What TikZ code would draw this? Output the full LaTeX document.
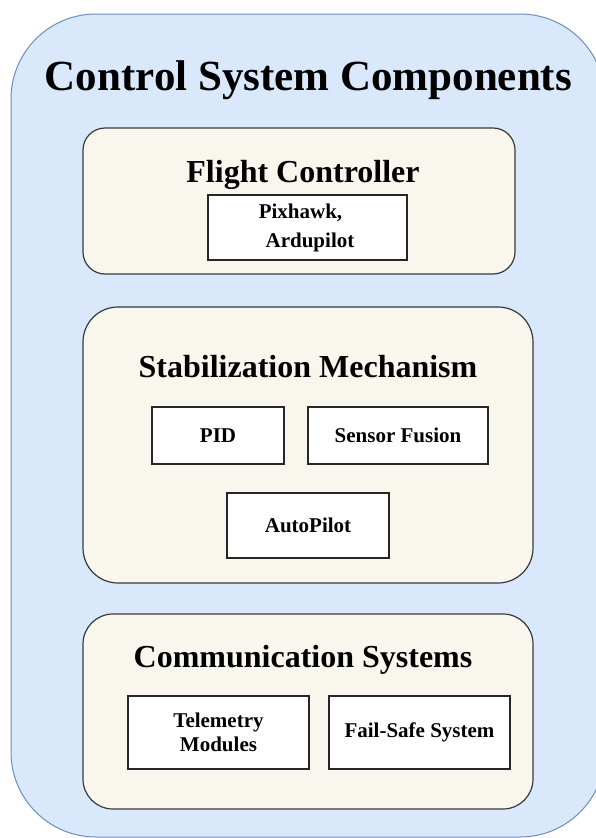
\documentclass[tikz,border=0pt]{standalone}
\usepackage{fontspec}
\setmainfont{Liberation Serif}
\definecolor{outerfill}{HTML}{DAE8FC}
\definecolor{outerdraw}{HTML}{6C8EBF}
\definecolor{groupfill}{HTML}{F9F7ED}
\definecolor{groupdraw}{HTML}{36393D}
\begin{document}
\begin{tikzpicture}[x=1pt,y=-1pt,
  outerbox/.style={draw=outerdraw,fill=outerfill,line width=1pt,rounded corners=85pt,inner sep=0pt},
  groupbox/.style={draw=groupdraw,fill=groupfill,line width=1.2pt,inner sep=0pt},
  itembox/.style={draw=black!85,fill=white,line width=1.3pt,inner sep=0pt,font=\fontsize{21}{24.5}\selectfont\bfseries,align=center},
  maintitle/.style={font=\fontsize{43}{48}\selectfont\bfseries,inner sep=0pt},
  grouptitle/.style={font=\fontsize{32}{36}\selectfont\bfseries,inner sep=0pt}]
\useasboundingbox (0,0) rectangle (596,838);
\clip (0,0) rectangle (596,838);
\node[outerbox,minimum width=594pt,minimum height=823pt] (outer) at (308,425.5) {};
\node[maintitle] (title) at (308.5,80) {Control System Components};
% Flight controller
\node[groupbox,rounded corners=22pt,minimum width=432pt,minimum height=146pt] (fc) at (299,201) {};
\node[grouptitle] (fct) at (303,175) {Flight Controller};
\node[itembox,minimum width=199pt,minimum height=65pt,font=\fontsize{21}{29}\selectfont\bfseries] (pix) at (307.5,227.5) {Pixhawk,\hspace*{14pt}\\\hspace*{5pt}Ardupilot};
% Stabilization
\node[groupbox,rounded corners=35pt,minimum width=450pt,minimum height=276pt] (stab) at (308,445) {};
\node[grouptitle] (stabt) at (308,367) {Stabilization Mechanism};
\node[itembox,minimum width=132pt,minimum height=57pt] (pid) at (218,435.5) {PID};
\node[itembox,minimum width=180pt,minimum height=57pt] (sf) at (398,435.5) {Sensor Fusion};
\node[itembox,minimum width=162pt,minimum height=65pt] (ap) at (308,525.5) {AutoPilot};
% Communication
\node[groupbox,rounded corners=30pt,minimum width=450pt,minimum height=195pt] (comm) at (308,711.5) {};
\node[grouptitle] (commt) at (303,660) {Communication Systems};
\node[itembox,minimum width=181pt,minimum height=73pt] (tel) at (218.5,732.5) {Telemetry\\Modules};
\node[itembox,minimum width=181pt,minimum height=73pt] (fs) at (419.5,732.5) {Fail-Safe System};
\end{tikzpicture}
\end{document}
